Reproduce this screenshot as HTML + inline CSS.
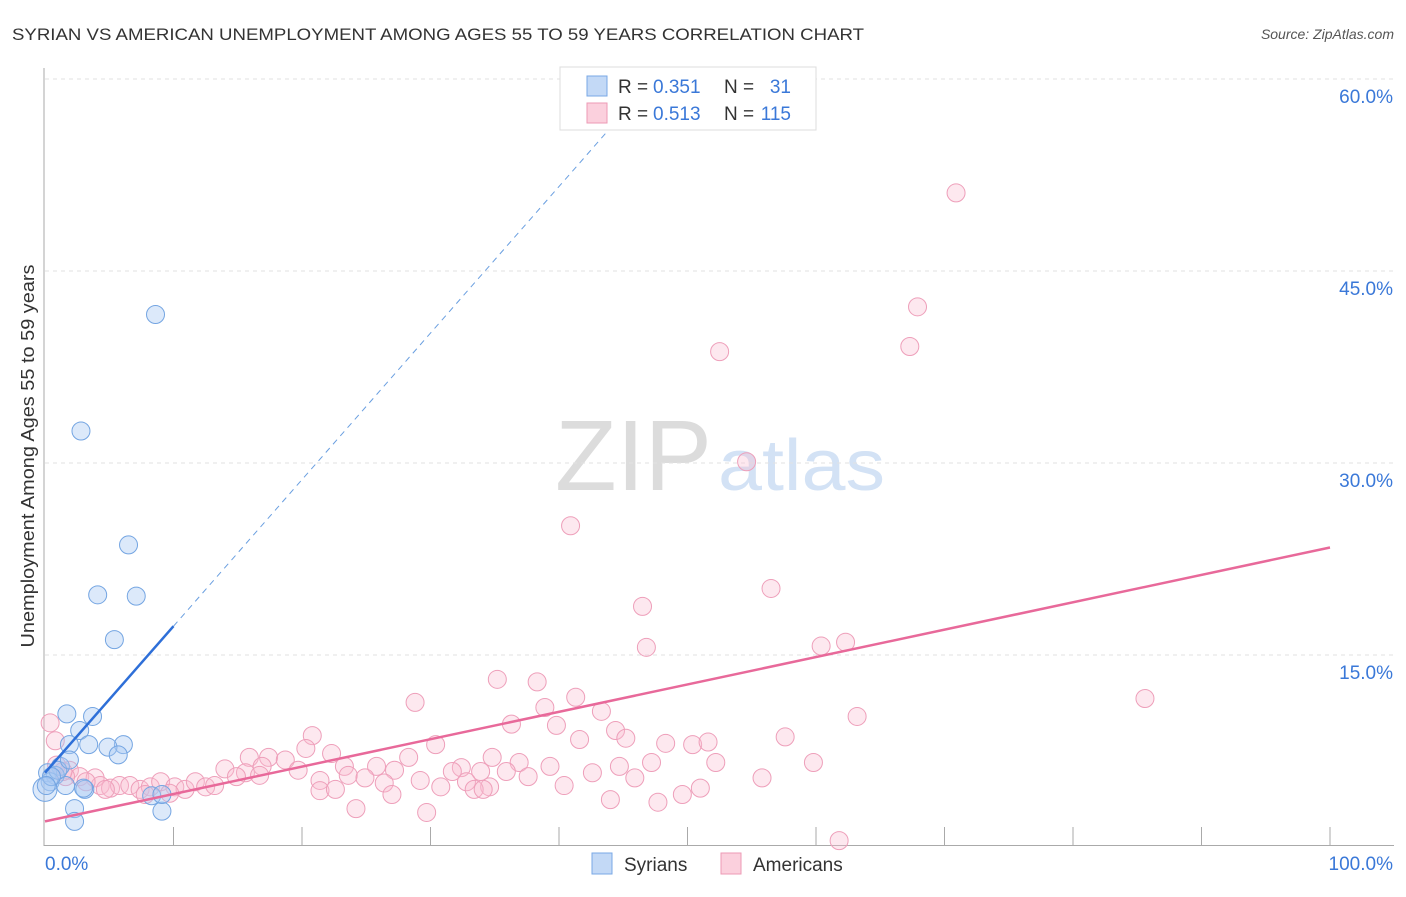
<!DOCTYPE html>
<html><head><meta charset="utf-8"><style>
body{margin:0;background:#fff;font-family:"Liberation Sans",sans-serif;}
svg text{font-family:"Liberation Sans",sans-serif;}
</style></head><body>
<svg id="chart" width="1406" height="892" xmlns="http://www.w3.org/2000/svg">
<text x="12" y="40" font-size="17" fill="#333" textLength="852" lengthAdjust="spacingAndGlyphs">SYRIAN VS AMERICAN UNEMPLOYMENT AMONG AGES 55 TO 59 YEARS CORRELATION CHART</text>
<text x="1394" y="39" font-size="14" fill="#555" text-anchor="end" font-style="italic">Source: ZipAtlas.com</text>
<text x="555" y="490" font-size="100" fill="#dcdcdc" font-family="Liberation Serif" textLength="157" lengthAdjust="spacingAndGlyphs">ZIP</text>
<text x="718" y="490" font-size="72" fill="#d3e2f5" textLength="167" lengthAdjust="spacingAndGlyphs">atlas</text>
<g id="grid"></g><g id="axes"></g><g id="marks"></g><g id="lines"></g>
<text transform="translate(34,456) rotate(-90)" font-size="18" fill="#333" text-anchor="middle" textLength="383" lengthAdjust="spacingAndGlyphs">Unemployment Among Ages 55 to 59 years</text>
<g>
<rect x="560" y="67" width="256" height="63" fill="#fff" stroke="#ddd"/>
<rect x="587" y="76" width="20" height="20" fill="#c3d9f6" stroke="#7aa8e6"/>
<text x="618" y="93" font-size="19" fill="#333">R =</text>
<text x="653" y="93" font-size="19" fill="#3a78d8">0.351</text>
<text x="724" y="93" font-size="19" fill="#333">N =</text>
<text x="791" y="93" font-size="19" fill="#3a78d8" text-anchor="end">31</text>
<rect x="587" y="103" width="20" height="20" fill="#fbd0dd" stroke="#ec9ab5"/>
<text x="618" y="120" font-size="19" fill="#333">R =</text>
<text x="653" y="120" font-size="19" fill="#3a78d8">0.513</text>
<text x="724" y="120" font-size="19" fill="#333">N =</text>
<text x="791" y="120" font-size="19" fill="#3a78d8" text-anchor="end">115</text>
</g>
<g>
<rect x="592" y="853" width="20" height="21" fill="#c3d9f6" stroke="#7aa8e6"/>
<text x="624" y="871" font-size="19" fill="#333">Syrians</text>
<rect x="721" y="853" width="20" height="21" fill="#fbd0dd" stroke="#ec9ab5"/>
<text x="753" y="871" font-size="19" fill="#333">Americans</text>
</g>
</svg>
<script>
const syrX=[8.6,2.8,6.5,4.1,7.1,5.4,1.7,3.7,2.7,1.9,3.4,6.1,4.9,5.7,1.2,0.2,0.8,0.4,1.6,3.1,0.0,8.3,2.3,9.1,2.3,3.0,1.0,0.5,9.1,0.1,1.9];
const syrY=[41.6,32.5,23.6,19.7,19.6,16.2,10.4,10.2,9.1,8.0,8.0,8.0,7.8,7.2,6.3,5.8,5.6,5.1,4.8,4.5,4.5,4.0,3.0,2.8,2.0,4.6,6.0,5.5,4.1,4.8,6.8];
const amX=[70.9,67.9,52.5,67.3,54.6,40.9,56.5,46.5,46.8,60.4,62.3,85.6,35.2,38.3,41.3,28.8,38.9,43.3,63.2,36.3,39.8,0.4,20.8,44.4,45.2,41.6,57.6,48.3,50.4,51.6,0.8,20.3,22.3,30.4,15.9,28.3,17.4,18.7,16.9,34.8,36.9,32.4,39.3,23.3,25.8,27.2,44.7,47.2,52.2,59.8,19.7,14.0,15.6,16.7,23.6,24.9,31.7,33.9,35.9,37.6,42.6,45.9,55.8,14.9,21.4,26.4,29.2,30.8,32.8,34.6,40.4,1.9,2.7,3.9,4.3,5.1,5.8,6.6,7.4,8.2,9.0,10.1,10.9,11.7,12.5,13.2,4.7,3.2,1.6,9.7,7.8,21.4,22.6,27.0,33.4,34.1,24.2,29.7,44.0,47.7,49.6,51.0,61.8,0.9,1.4];
const amY=[51.1,42.2,38.7,39.1,30.1,25.1,20.2,18.8,15.6,15.7,16.0,11.6,13.1,12.9,11.7,11.3,10.9,10.6,10.2,9.6,9.5,9.7,8.7,9.1,8.5,8.4,8.6,8.1,8.0,8.2,8.3,7.7,7.3,8.0,7.0,7.0,7.0,6.8,6.3,7.0,6.6,6.2,6.3,6.3,6.3,6.0,6.3,6.6,6.6,6.6,6.0,6.1,5.8,5.6,5.6,5.4,5.9,5.9,5.9,5.5,5.8,5.4,5.4,5.5,5.2,5.0,5.2,4.7,5.1,4.7,4.8,6.0,5.5,5.4,4.8,4.6,4.8,4.8,4.5,4.7,5.1,4.7,4.5,5.1,4.7,4.8,4.5,5.1,5.5,4.2,4.1,4.4,4.5,4.1,4.5,4.5,3.0,2.7,3.7,3.5,4.1,4.6,0.5,6.4,5.9];
const yTicks=[15,30,45,60];
const xTickVals=[10,20,30,40,50,60,70,80,90,100];
const amTrend=[2.0,23.4];
const syrTrend=[5.8,1.145];
const NS='http://www.w3.org/2000/svg';
const sx=v=>45+v*12.85, sy=v=>847-v*12.8;
function mk(tag,attrs,parent){const e=document.createElementNS(NS,tag);for(const k in attrs)e.setAttribute(k,attrs[k]);document.getElementById(parent).appendChild(e);return e;}
yTicks.forEach(t=>{
 const g=mk('line',{x1:45,x2:1394,y1:sy(t),y2:sy(t),stroke:'#e2e2e2','stroke-dasharray':'4,4'},'grid');
 
 
 const l=mk('text',{x:1393,y:sy(t)+24,'font-size':19,fill:'#3a78d8','text-anchor':'end'},'axes');l.textContent=t.toFixed(1)+'%';
 
 
});
let a=mk('line',{x1:44,x2:44,y1:68,y2:846,stroke:'#aaa'},'axes');


a=mk('line',{x1:44,x2:1394,y1:845.5,y2:845.5,stroke:'#aaa'},'axes');


xTickVals.forEach(t=>{const e=mk('line',{x1:sx(t),x2:sx(t),y1:827,y2:845,stroke:'#aaa'},'axes');
 
 });
let t0=mk('text',{x:45,y:870,'font-size':19,fill:'#3a78d8'},'axes');t0.textContent='0.0%';


t0=mk('text',{x:1393,y:870,'font-size':19,fill:'#3a78d8','text-anchor':'end'},'axes');t0.textContent='100.0%';


amX.forEach((x,i)=>{const c=mk('circle',{cx:sx(x),cy:sy(amY[i]),r:9,fill:'rgba(249,190,208,0.35)',stroke:'#ee9fba','stroke-width':1},'marks');
 
 });
syrX.forEach((x,i)=>{const c=mk('circle',{cx:sx(x),cy:sy(syrY[i]),r:(i==20?12:9),fill:'rgba(168,200,242,0.4)',stroke:'#74a5e2','stroke-width':1},'marks');
 
 });
let tl=mk('line',{x1:sx(0),y1:sy(amTrend[0]),x2:sx(100),y2:sy(amTrend[1]),stroke:'#e8699a','stroke-width':2.5},'lines');


tl=mk('line',{x1:sx(0),y1:sy(syrTrend[0]),x2:sx(10),y2:sy(syrTrend[0]+10*syrTrend[1]),stroke:'#2e6fd8','stroke-width':2.5},'lines');


const xe=(56-syrTrend[0])/syrTrend[1];
tl=mk('line',{x1:sx(10),y1:sy(syrTrend[0]+10*syrTrend[1]),x2:sx(xe),y2:sy(56),stroke:'#6a9fe0','stroke-width':1,'stroke-dasharray':'6,5'},'lines');


</script>
</body></html>
